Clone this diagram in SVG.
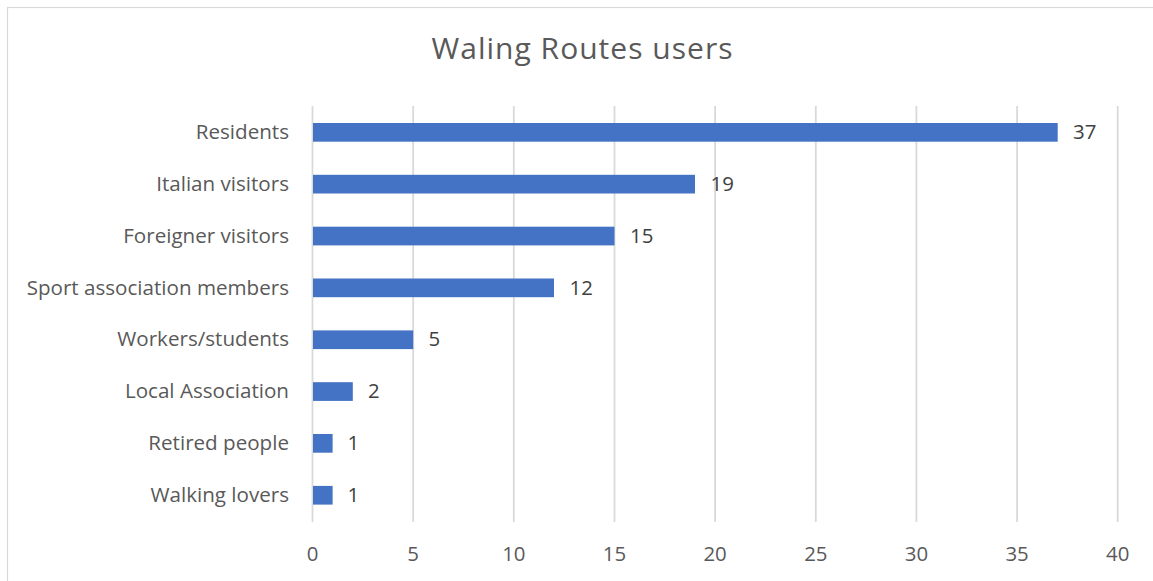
<svg xmlns="http://www.w3.org/2000/svg" width="1153" height="581" viewBox="0 0 1153 581">
<style>
.frame{fill:#fff;stroke:#d9d9d9;stroke-width:1.2}
.grid{stroke:#d9d9d9;stroke-width:1.8}
.bar{fill:#4472c4}
.title{font-family:"Open Sans","Liberation Sans",sans-serif;font-size:30px;fill:#595959;text-anchor:middle}
.cat{font-family:"Open Sans","Liberation Sans",sans-serif;font-size:20.6px;fill:#595959;text-anchor:end}
.val{font-family:"Open Sans","Liberation Sans",sans-serif;font-size:20.4px;fill:#404040;text-anchor:start}
.tick{font-family:"Open Sans","Liberation Sans",sans-serif;font-size:20.4px;fill:#595959;text-anchor:middle}
</style>
<rect class="frame" x="7.5" y="7.5" width="1150" height="580"/>
<text class="title" x="582" y="58.5" textLength="301" lengthAdjust="spacing">Waling Routes users</text>
<g id="gridlines">
<line class="grid" x1="312.5" y1="106" x2="312.5" y2="522"/>
<line class="grid" x1="413.2" y1="106" x2="413.2" y2="522"/>
<line class="grid" x1="513.8" y1="106" x2="513.8" y2="522"/>
<line class="grid" x1="614.5" y1="106" x2="614.5" y2="522"/>
<line class="grid" x1="715.1" y1="106" x2="715.1" y2="522"/>
<line class="grid" x1="815.8" y1="106" x2="815.8" y2="522"/>
<line class="grid" x1="916.4" y1="106" x2="916.4" y2="522"/>
<line class="grid" x1="1017.1" y1="106" x2="1017.1" y2="522"/>
<line class="grid" x1="1117.7" y1="106" x2="1117.7" y2="522"/>
</g>
<g id="axis-labels">
<text class="tick" x="312.5" y="561">0</text>
<text class="tick" x="413.2" y="561">5</text>
<text class="tick" x="513.8" y="561">10</text>
<text class="tick" x="614.5" y="561">15</text>
<text class="tick" x="715.1" y="561">20</text>
<text class="tick" x="815.8" y="561">25</text>
<text class="tick" x="916.4" y="561">30</text>
<text class="tick" x="1017.1" y="561">35</text>
<text class="tick" x="1117.7" y="561">40</text>
</g>
<g id="residents">
<text class="cat" x="289" y="139">Residents</text>
<rect class="bar" x="313" y="123" width="744.7" height="18.7"/>
<text class="val" x="1073" y="139">37</text>
</g>
<g id="italian-visitors">
<text class="cat" x="289" y="190.8">Italian visitors</text>
<rect class="bar" x="313" y="174.8" width="382" height="18.7"/>
<text class="val" x="710.5" y="190.8">19</text>
</g>
<g id="foreigner-visitors">
<text class="cat" x="289" y="242.7">Foreigner visitors</text>
<rect class="bar" x="313" y="226.7" width="301.5" height="18.7"/>
<text class="val" x="630" y="242.7">15</text>
</g>
<g id="sport-association-members">
<text class="cat" x="289" y="294.5">Sport association members</text>
<rect class="bar" x="313" y="278.5" width="241" height="18.7"/>
<text class="val" x="569.5" y="294.5">12</text>
</g>
<g id="workers-students">
<text class="cat" x="289" y="346.4">Workers/students</text>
<rect class="bar" x="313" y="330.4" width="100.2" height="18.7"/>
<text class="val" x="428.5" y="346.4">5</text>
</g>
<g id="local-association">
<text class="cat" x="289" y="398.2">Local Association</text>
<rect class="bar" x="313" y="382.2" width="39.8" height="18.7"/>
<text class="val" x="368" y="398.2">2</text>
</g>
<g id="retired-people">
<text class="cat" x="289" y="450">Retired people</text>
<rect class="bar" x="313" y="434" width="19.6" height="18.7"/>
<text class="val" x="347.5" y="450">1</text>
</g>
<g id="walking-lovers">
<text class="cat" x="289" y="502">Walking lovers</text>
<rect class="bar" x="313" y="485.9" width="19.6" height="18.7"/>
<text class="val" x="347.5" y="502">1</text>
</g>
</svg>
